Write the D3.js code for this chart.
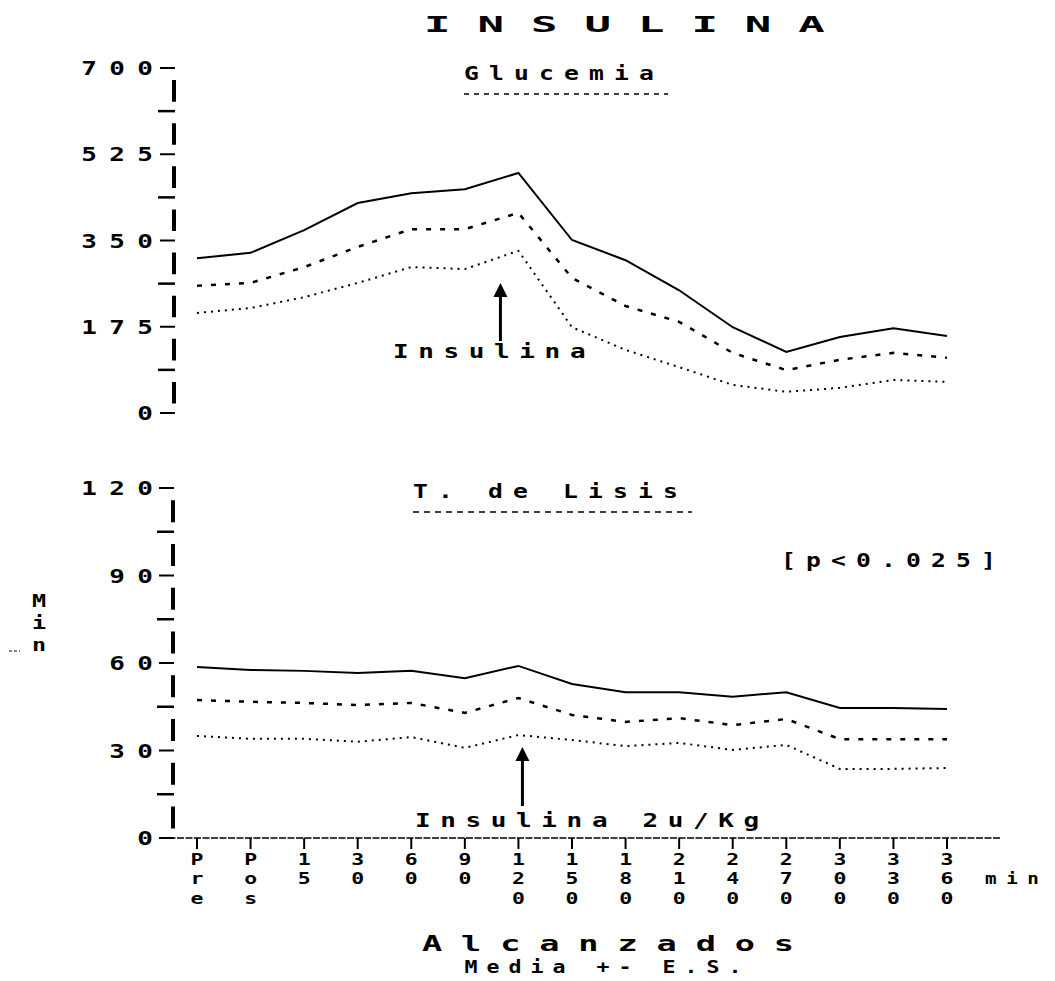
<!DOCTYPE html>
<html>
<head>
<meta charset="utf-8">
<script src="https://cdn.jsdelivr.net/npm/d3@7"></script>
<style>
  html, body { margin: 0; padding: 0; background: #fff; }
  svg { display: block; }
  text { font-family: "DejaVu Sans Mono", monospace; font-weight: bold; fill: #000; }
</style>
</head>
<body>
<script>
// Time points (minutes) along the x axis
const minutos = ["Pre", "Pos", "15", "30", "60", "90", "120", "150", "180", "210", "240", "270", "300", "330", "360"];

// Glucemia (mg/dl): mean + ES, mean, mean - ES
const glucemiaSup   = [314, 325, 371, 426, 446, 454, 487, 351, 310, 249, 174, 124, 154, 172, 156];
const glucemiaMedia = [258, 264, 296, 337, 373, 373, 406, 274, 217, 185, 122, 87, 108, 122, 112];
const glucemiaInf   = [203, 213, 235, 264, 296, 292, 329, 174, 128, 93, 57, 43, 51, 67, 63];

// Tiempo de lisis (min): mean + ES, mean, mean - ES
const lisisSup   = [58.6, 57.6, 57.3, 56.6, 57.3, 54.8, 59.0, 52.8, 50.0, 50.0, 48.4, 50.0, 44.6, 44.6, 44.2];
const lisisMedia = [47.3, 46.7, 46.3, 45.6, 46.3, 42.9, 48.0, 42.2, 39.8, 41.1, 38.7, 40.8, 33.9, 33.9, 33.9];
const lisisInf   = [35.0, 34.0, 34.0, 33.0, 34.6, 30.9, 35.3, 33.6, 31.5, 32.6, 30.2, 31.9, 23.7, 23.7, 24.0];

// Axis tick values
const ticksGlucemia = [0, 175, 350, 525, 700];
const ticksLisis = [0, 30, 60, 90, 120];

const W = 1055, H = 981;
const svg = d3.select("body").append("svg").attr("width", W).attr("height", H);

const x = d3.scalePoint().domain(minutos).range([197, 947]);
const yG = d3.scaleLinear().domain([0, 700]).range([413, 68]);
const yL = d3.scaleLinear().domain([0, 120]).range([838, 488]);

// text helper: wide (horizontally stretched) monospace glyphs with letter spacing;
// the spacing trails the last glyph, so anchors are compensated
function txt(px, py, s, size, ls, anchor, sx) {
  sx = sx || 1.3;
  let dx = 0;
  if (anchor === "end") dx = ls;
  else if (anchor === "middle") dx = ls / 2;
  return svg.append("text")
    .attr("transform", `translate(${px},${py}) scale(${sx},1)`)
    .attr("x", dx).attr("y", 0)
    .attr("font-size", size)
    .attr("letter-spacing", ls)
    .attr("text-anchor", anchor || "start")
    .text(s);
}

// dashed vertical axis with short ticks, in the style of a character plot
function yAxis(scale, ticks, axisX) {
  const g = svg.append("g");
  const top = scale(ticks[ticks.length - 1]), bottom = scale(ticks[0]);
  const step = (bottom - top) / ((ticks.length - 1) * 2);
  g.append("line")
    .attr("x1", axisX).attr("x2", axisX)
    .attr("y1", top).attr("y2", bottom)
    .attr("stroke", "#000").attr("stroke-width", 4)
    .attr("stroke-dasharray", `0 ${step * 0.28} ${step * 0.5} ${step * 0.22}`);
  const minor = [];
  for (let i = 0; i < ticks.length - 1; i++) minor.push((ticks[i] + ticks[i + 1]) / 2);
  g.selectAll("line.major").data(ticks).join("line").attr("class", "major")
    .attr("x1", axisX - 14).attr("x2", axisX + 1)
    .attr("y1", d => scale(d)).attr("y2", d => scale(d))
    .attr("stroke", "#000").attr("stroke-width", 2);
  g.selectAll("line.minor").data(minor).join("line").attr("class", "minor")
    .attr("x1", axisX - 16).attr("x2", axisX + 1)
    .attr("y1", d => scale(d)).attr("y2", d => scale(d))
    .attr("stroke", "#000").attr("stroke-width", 2.5);
  ticks.forEach(t => txt(153, scale(t) + 7, String(t), 20, 9.5, "end", 1.3));
}

yAxis(yG, ticksGlucemia, 174);
yAxis(yL, ticksLisis, 173);

// x axis (bottom panel only)
svg.append("line")
  .attr("x1", 160).attr("x2", 1000)
  .attr("y1", yL(0)).attr("y2", yL(0))
  .attr("stroke", "#000").attr("stroke-width", 1.5)
  .attr("stroke-dasharray", "7 1.5");
svg.selectAll("line.xt").data(minutos).join("line").attr("class", "xt")
  .attr("x1", d => x(d)).attr("x2", d => x(d))
  .attr("y1", yL(0)).attr("y2", yL(0) + 11)
  .attr("stroke", "#000").attr("stroke-width", 2);

// stacked (vertical) tick labels, one text per time point
minutos.forEach(m => {
  const t = svg.append("text")
    .attr("transform", `translate(${x(m)},865) scale(1.3,1)`)
    .attr("font-size", 16.5).attr("text-anchor", "middle");
  m.split("").forEach((c, i) => {
    t.append("tspan").attr("x", 0).attr("dy", i === 0 ? 0 : 19.5).text(c);
  });
});
txt(985, 884, "min", 16, 8, "start", 1.2);

// series lines
function drawSeries(vals, scale, dash, width) {
  const line = d3.line().x((d, i) => x(minutos[i])).y(d => scale(d));
  svg.append("path")
    .attr("d", line(vals))
    .attr("fill", "none").attr("stroke", "#000")
    .attr("stroke-width", width)
    .attr("stroke-dasharray", dash);
}
drawSeries(glucemiaSup, yG, null, 2);
drawSeries(glucemiaMedia, yG, "5 9", 2.5);
drawSeries(glucemiaInf, yG, "2 5", 2);
drawSeries(lisisSup, yL, null, 2);
drawSeries(lisisMedia, yL, "5 9", 2.5);
drawSeries(lisisInf, yL, "2 5", 2);

// arrows marking the insulin dose
function arrow(ax, yTop, yBot) {
  svg.append("line").attr("x1", ax).attr("x2", ax)
    .attr("y1", yTop + 8).attr("y2", yBot)
    .attr("stroke", "#000").attr("stroke-width", 3);
  svg.append("path")
    .attr("d", `M${ax},${yTop} L${ax - 7},${yTop + 14} L${ax + 7},${yTop + 14} Z`)
    .attr("fill", "#000");
}
arrow(x("120") - 18, 283, 341);
arrow(x("120") + 4, 747, 806);

// titles and annotations
txt(424, 32, "INSULINA", 22, 13.5, "start", 2);
txt(464, 80, "Glucemia", 19, 7.8, "start", 1.3);
svg.append("line").attr("x1", 464).attr("x2", 668).attr("y1", 94).attr("y2", 94)
  .attr("stroke", "#000").attr("stroke-width", 1.5).attr("stroke-dasharray", "5 5");
txt(393, 358, "Insulina", 20, 7.4, "start", 1.3);

txt(413, 498, "T. de Lisis", 19, 7.8, "start", 1.3);
svg.append("line").attr("x1", 413).attr("x2", 692).attr("y1", 512).attr("y2", 512)
  .attr("stroke", "#000").attr("stroke-width", 1.5).attr("stroke-dasharray", "6 5");
txt(781, 567, "[p<0.025]", 19, 7.8, "start", 1.3);
txt(415, 827, "Insulina 2u/Kg", 20, 7.4, "start", 1.3);

// y label of the lower panel
const yLabel = svg.append("text")
  .attr("transform", "translate(39,607) scale(1.3,1)")
  .attr("font-size", 18).attr("text-anchor", "middle");
["M", "i", "n"].forEach((c, i) => {
  yLabel.append("tspan").attr("x", 0).attr("dy", i === 0 ? 0 : 22).text(c);
});
svg.append("line").attr("x1", 9).attr("x2", 20).attr("y1", 651).attr("y2", 651)
  .attr("stroke", "#000").attr("stroke-width", 1).attr("stroke-dasharray", "3 2");

// footer
txt(608, 951, "Alcanzados", 21, 11.8, "middle", 1.6);
txt(603, 973, "Media +- E.S.", 18, 7.5, "middle", 1.2);
</script>
</body>
</html>
